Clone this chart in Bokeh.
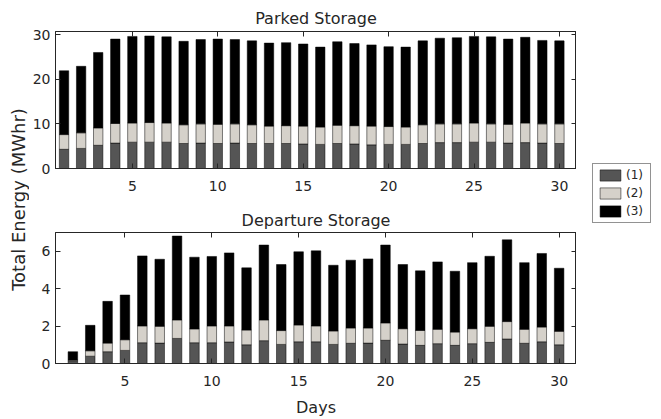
from bokeh.plotting import figure
from bokeh.models import (Range1d, LinearAxis, FixedTicker, Legend, LegendItem, Label,
                          ColumnDataSource, CustomJSTickFormatter)
from bokeh.layouts import row, column
from bokeh.embed import file_html
from bokeh.resources import INLINE

# ---------------- data ----------------
parked_days = list(range(1, 31))
parked_s1 = [4.3, 4.5, 5.2, 5.7, 5.9, 5.9, 5.9, 5.6, 5.7, 5.6, 5.7, 5.6, 5.6, 5.6, 5.5,
             5.4, 5.6, 5.5, 5.3, 5.4, 5.4, 5.6, 5.8, 5.8, 5.9, 5.9, 5.7, 5.8, 5.7, 5.6]
parked_s2 = [3.3, 3.5, 3.9, 4.4, 4.3, 4.4, 4.3, 4.2, 4.3, 4.3, 4.3, 4.2, 3.9, 4.0, 4.0,
             3.9, 4.1, 4.1, 4.2, 4.0, 3.9, 4.2, 4.2, 4.2, 4.3, 4.1, 4.2, 4.4, 4.3, 4.4]
parked_s3 = [14.3, 14.9, 16.9, 18.9, 19.4, 19.4, 19.3, 18.7, 18.9, 19.1, 18.9, 18.8, 18.6,
             18.6, 18.4, 17.9, 18.7, 18.4, 18.2, 17.9, 17.9, 18.8, 19.2, 19.3, 19.4, 19.5,
             19.1, 19.2, 18.7, 18.6]

depart_days = list(range(2, 31))
depart_s1 = [0.12, 0.39, 0.63, 0.70, 1.11, 1.09, 1.34, 1.11, 1.11, 1.15, 1.00, 1.22, 1.02,
             1.16, 1.16, 1.02, 1.08, 1.09, 1.24, 1.04, 0.97, 1.06, 0.97, 1.06, 1.13, 1.31,
             1.08, 1.16, 1.00]
depart_s2 = [0.06, 0.29, 0.46, 0.57, 0.90, 0.90, 0.99, 0.74, 0.90, 0.86, 0.79, 1.11, 0.74,
             0.90, 0.85, 0.72, 0.82, 0.81, 0.93, 0.82, 0.80, 0.77, 0.71, 0.80, 0.86, 0.93,
             0.75, 0.79, 0.72]
depart_s3 = [0.45, 1.36, 2.23, 2.39, 3.74, 3.58, 4.48, 3.83, 3.71, 3.90, 3.32, 4.00, 3.53,
             3.91, 4.01, 3.51, 3.62, 3.69, 4.16, 3.43, 3.18, 3.60, 3.25, 3.53, 3.74, 4.37,
             3.56, 3.93, 3.37]

series_labels = ["(1)", "(2)", "(3)"]
x_ticks = [5, 10, 15, 20, 25, 30]
parked_y_ticks = [0, 10, 20, 30]
depart_y_ticks = [0, 2, 4, 6]

# ---------------- style ----------------
COLORS = ["#555555", "#d5d1ca", "#000000"]
AX = "#262626"
FONT = "DejaVu Sans"
blank = CustomJSTickFormatter(code="return ''")


def style_axes(p, xt, yt, title_standoff):
    p.xgrid.visible = False
    p.ygrid.visible = False
    p.outline_line_color = AX
    p.outline_line_width = 1
    p.add_layout(LinearAxis(formatter=blank), "above")
    p.add_layout(LinearAxis(formatter=blank), "right")
    for ax in p.below + p.above:
        ax.ticker = FixedTicker(ticks=xt)
    for ax in p.left + p.right:
        ax.ticker = FixedTicker(ticks=yt)
    for ax in p.below + p.above + p.left + p.right:
        ax.axis_line_color = AX
        ax.major_tick_line_color = AX
        ax.major_tick_in = 5
        ax.major_tick_out = 0
        ax.minor_tick_line_color = None
        ax.major_label_text_font = FONT
        ax.major_label_text_font_size = "14px"
        ax.major_label_text_color = AX
        ax.axis_label_text_font = FONT
        ax.axis_label_text_font_size = "16px"
        ax.axis_label_text_font_style = "normal"
        ax.axis_label_text_color = AX
    p.below[0].major_label_standoff = 12
    p.left[0].major_label_standoff = 5
    for ax in (p.above[0], p.right[0]):
        ax.major_label_standoff = 0
    p.title.align = "center"
    p.title.text_font = FONT
    p.title.text_font_size = "16px"
    p.title.text_font_style = "normal"
    p.title.text_color = AX
    p.title.standoff = title_standoff


def make_bars(p, days, s1, s2, s3):
    src = ColumnDataSource(dict(day=days, s1=s1, s2=s2, s3=s3))
    return p.vbar_stack(["s1", "s2", "s3"], x="day", width=0.55, source=src,
                        fill_color=COLORS, line_color="#000000", line_width=0.5)


f1 = figure(width=547, height=198, x_range=Range1d(0.5, 31), y_range=Range1d(0, 30.7),
            toolbar_location=None, output_backend="svg", title="Parked Storage",
            min_border_left=26, min_border_right=0, min_border_top=31, min_border_bottom=30)
make_bars(f1, parked_days, parked_s1, parked_s2, parked_s3)
style_axes(f1, x_ticks, parked_y_ticks, 8)

f2 = figure(width=547, height=221, x_range=Range1d(1, 31), y_range=Range1d(0, 7),
            toolbar_location=None, output_backend="svg", title="Departure Storage",
            min_border_left=26, min_border_right=0, min_border_top=34, min_border_bottom=56)
make_bars(f2, depart_days, depart_s1, depart_s2, depart_s3)
style_axes(f2, x_ticks, depart_y_ticks, 6)
f2.below[0].axis_label = "Days"
f2.below[0].axis_label_standoff = 9

# shared y label
lab = figure(width=29, height=419, toolbar_location=None, output_backend="svg", title=None,
             x_axis_type=None, y_axis_type=None, outline_line_color=None, min_border=0,
             x_range=Range1d(0, 1), y_range=Range1d(0, 1))
lab.xgrid.visible = False
lab.ygrid.visible = False
lab.add_layout(Label(x=18, y=220, x_units="screen", y_units="screen", angle=90,
                     angle_units="deg", text="Total Energy (MWhr)", text_font=FONT,
                     text_font_size="18px", text_color=AX, text_align="center",
                     text_baseline="alphabetic"))

# legend panel (its swatch renderers are hidden)
leg = figure(width=85, height=419, toolbar_location=None, output_backend="svg", title=None,
             x_axis_type=None, y_axis_type=None, outline_line_color=None,
             min_border=0, x_range=Range1d(0, 1), y_range=Range1d(0, 1))
leg.xgrid.visible = False
leg.ygrid.visible = False
rs = make_bars(leg, parked_days, parked_s1, parked_s2, parked_s3)
for r in rs:
    r.visible = False
legend = Legend(items=[LegendItem(label=l, renderers=[r]) for l, r in zip(series_labels, rs)],
                location=(16, 196), glyph_width=26, glyph_height=14, label_height=14,
                label_standoff=3, spacing=4, padding=4, margin=0,
                label_text_font=FONT, label_text_font_size="12px", label_text_color=AX,
                border_line_color=AX, border_line_width=1,
                inactive_fill_alpha=0)
leg.add_layout(legend)

layout = row(lab, column(f1, f2), leg)
open("out.html", "w").write(file_html(layout, INLINE))
